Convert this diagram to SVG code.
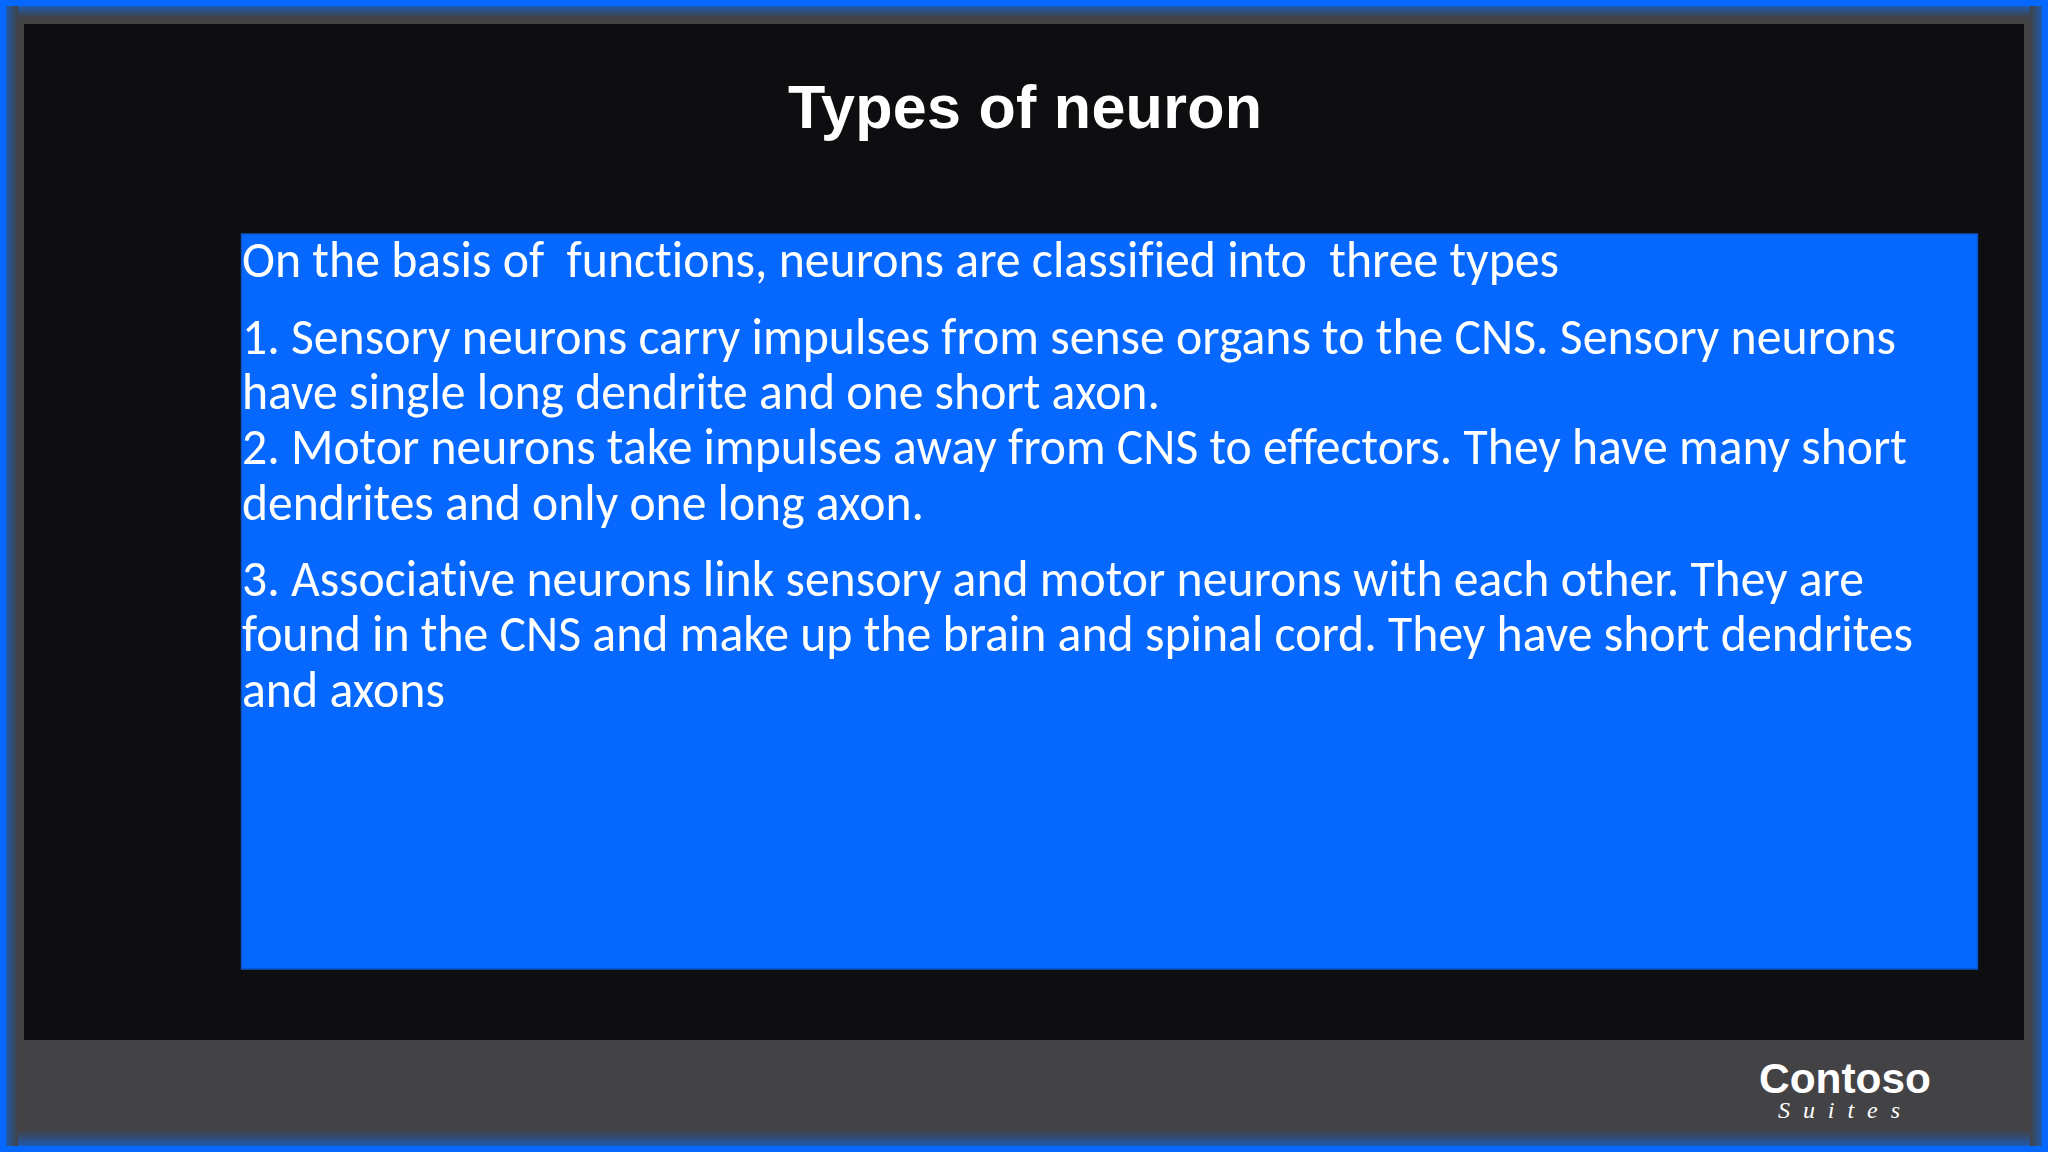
<svg xmlns="http://www.w3.org/2000/svg" width="2048" height="1152" viewBox="0 0 2048 1152">
<style>
.b{font-family:Carlito,"Open Sans","Liberation Sans",sans-serif;font-size:51px;fill:#fff;font-variant-ligatures:none}
.h{font-family:"Liberation Sans",Arial,sans-serif;font-weight:700;fill:#fff}
</style>
<defs>
<linearGradient id="gl" x1="0" x2="1" y1="0" y2="0"><stop offset="0" stop-color="#1f5aad"/><stop offset="1" stop-color="#434245"/></linearGradient>
<linearGradient id="gr" x1="1" x2="0" y1="0" y2="0"><stop offset="0" stop-color="#1f5aad"/><stop offset="1" stop-color="#434245"/></linearGradient>
<linearGradient id="gt" x1="0" x2="0" y1="0" y2="1"><stop offset="0" stop-color="#1f5aad"/><stop offset="1" stop-color="#434245"/></linearGradient>
<linearGradient id="gb" x1="0" x2="0" y1="1" y2="0"><stop offset="0" stop-color="#1f5aad"/><stop offset="1" stop-color="#434245"/></linearGradient>
</defs>
<rect width="2048" height="1152" fill="#0668fe"/>
<rect x="6" y="6" width="2036" height="1140" fill="#434245"/>
<rect x="6" y="6" width="2036" height="12" fill="url(#gt)"/>
<rect x="6" y="1130" width="2036" height="16" fill="url(#gb)"/>
<rect x="6" y="6" width="12" height="1140" fill="url(#gl)"/>
<rect x="2030" y="6" width="12" height="1140" fill="url(#gr)"/>
<rect x="24" y="24" width="2000" height="1016" fill="#0e0d10"/>
<text class="h" x="788" y="128" font-size="61" textLength="474" lengthAdjust="spacing">Types of neuron</text>
<rect x="241.500" y="234" width="1736" height="735" fill="#0668fe" stroke="#0b55c8" stroke-width="1.500"/>
<g class="b">
<text x="242" y="277" xml:space="preserve" textLength="1317" lengthAdjust="spacingAndGlyphs">On the basis of  functions, neurons are classified into  three types</text>
<text x="242" y="354" textLength="1654" lengthAdjust="spacingAndGlyphs">1. Sensory neurons carry impulses from sense organs to the CNS. Sensory neurons</text>
<text x="242" y="409" textLength="918" lengthAdjust="spacingAndGlyphs">have single long dendrite and one short axon.</text>
<text x="242" y="464" textLength="1665" lengthAdjust="spacingAndGlyphs">2. Motor neurons take impulses away from CNS to effectors. They have many short</text>
<text x="242" y="520" textLength="682" lengthAdjust="spacingAndGlyphs">dendrites and only one long axon.</text>
<text x="242" y="596" textLength="1622" lengthAdjust="spacingAndGlyphs">3. Associative neurons link sensory and motor neurons with each other. They are</text>
<text x="242" y="651" textLength="1671" lengthAdjust="spacingAndGlyphs">found in the CNS and make up the brain and spinal cord. They have short dendrites</text>
<text x="242" y="707" textLength="203" lengthAdjust="spacingAndGlyphs">and axons</text>
</g>
<text class="h" x="1759" y="1093" font-size="42" textLength="172" lengthAdjust="spacingAndGlyphs">Contoso</text>
<text x="1778" y="1118" font-family="'Liberation Serif',serif" font-style="italic" font-size="24" fill="#fff" textLength="122" lengthAdjust="spacing">Suites</text>
</svg>
